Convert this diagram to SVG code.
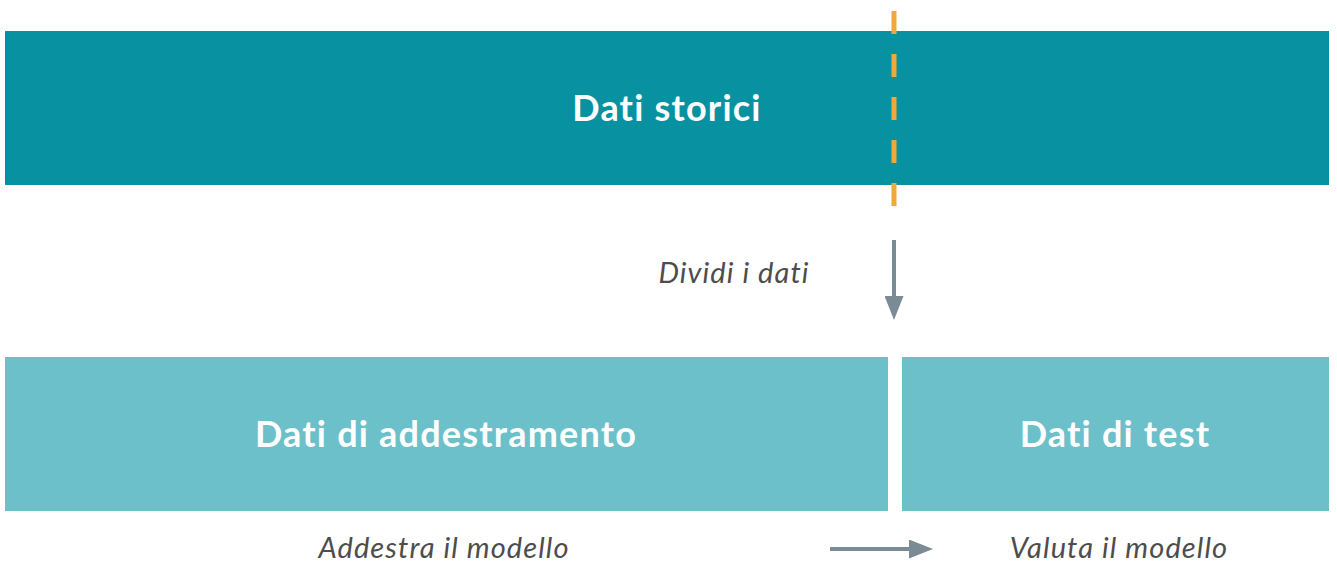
<svg xmlns="http://www.w3.org/2000/svg" width="1337" height="573" viewBox="0 0 1337 573">
<defs>
<style>
.title{font-family:Lato,"Open Sans",sans-serif;font-weight:700;font-size:36px;letter-spacing:1.2px;fill:#ffffff;text-anchor:middle;font-variant-ligatures:none}
.lbl{font-family:Lato,"Open Sans",sans-serif;font-style:italic;font-size:29px;letter-spacing:1.1px;fill:#4d4d4d;text-anchor:middle;font-variant-ligatures:none}
.arr{stroke:#7a8b96;stroke-width:4;fill:none}
</style>
<marker id="ah" viewBox="0 0 10 10" refX="0" refY="5" markerWidth="24" markerHeight="19" markerUnits="userSpaceOnUse" orient="auto" preserveAspectRatio="none">
<path d="M0,0 L10,5 L0,10 Z" fill="#7a8b96"/>
</marker>
</defs>
<rect width="1337" height="573" fill="#ffffff"/>
<g id="dati-storici">
<rect x="5" y="31" width="1324" height="154" fill="#0892a1"/>
<text class="title" x="667" y="121">Dati storici</text>
</g>
<g id="dati-addestramento">
<rect x="5" y="357" width="883" height="154" fill="#6cc0c9"/>
<text class="title" x="446" y="447">Dati di addestramento</text>
</g>
<g id="dati-test">
<rect x="902" y="357" width="427" height="154" fill="#6cc0c9"/>
<text class="title" x="1115" y="447">Dati di test</text>
</g>
<g id="connectors">
<line x1="894" y1="11" x2="894" y2="206" stroke="#f0a73c" stroke-width="5" stroke-dasharray="23 20"/>
<line class="arr" x1="894" y1="240" x2="894" y2="296" marker-end="url(#ah)"/>
<text class="lbl" x="734" y="283">Dividi i dati</text>
<line class="arr" x1="830" y1="549" x2="909" y2="549" marker-end="url(#ah)"/>
<text class="lbl" x="444" y="558">Addestra il modello</text>
<text class="lbl" x="1119" y="558">Valuta il modello</text>
</g>
</svg>
